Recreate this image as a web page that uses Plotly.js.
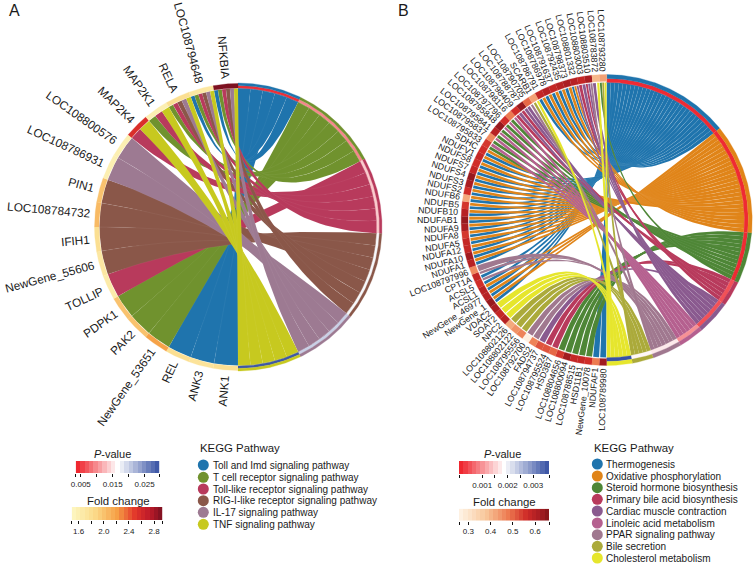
<!DOCTYPE html>
<html><head><meta charset="utf-8">
<script src="https://cdn.plot.ly/plotly-3.0.1.min.js"></script>
<style>html,body{margin:0;padding:0;background:#fff}#c{width:755px;height:565px}</style></head>
<body><div id="c"></div>
<script>
// ---------- Panel A data ----------
const termsA = ["Toll and Imd signaling pathway","T cell receptor signaling pathway","Toll-like receptor signaling pathway","RIG-I-like receptor signaling pathway","IL-17 signaling pathway","TNF signaling pathway"];
const termColorsA = ["#1f74ad","#70922e","#b83a5c","#8a5749","#9d7a92","#c7c91f"];
const termPA = [0.0045,0.0095,0.0135,0.0170,0.0200,0.0290];
const genesA = ["ANK1","ANK3","REL","NewGene_53651","PAK2","PDPK1","TOLLIP","NewGene_55606","IFIH1","LOC108784732","PIN1","LOC108786931","LOC108800576","MAP2K4","MAP2K1","RELA","LOC108794648","NFKBIA"];
const foldA = [1.8,1.75,1.8,2.2,2.0,2.0,1.65,1.7,1.8,2.05,2.0,1.6,1.6,2.55,1.6,1.8,1.7,2.92];
const linksA = [[0],[0],[0],[1],[1],[1],[2],[3],[3],[3],[3],[4],[4],[2,5],[1,2,5],[1,2,3,4,5],[0,1,2,3,4,5],[0,1,2,3,4,5]];
// ---------- Panel B data ----------
const termsB = ["Thermogenesis","Oxidative phosphorylation","Steroid hormone biosynthesis","Primary bile acid biosynthesis","Cardiac muscle contraction","Linoleic acid metabolism","PPAR signaling pathway","Bile secretion","Cholesterol metabolism"];
const termColorsB = ["#1f74ad","#e08418","#4e8636","#b83a5c","#8a5a8f","#b5608f","#a0788f","#abaa3a","#e6e62c"];
const termPB = [0.0002,0.0002,0.0002,0.0005,0.0005,0.0010,0.0017,0.0018,0.0036];
const genesB = ["LOC108789980","NDUFAF1","NewGene_10078","HSD11B1","LOC108788515","LOC108800094","LOC108804656","HSD3B7","LOC108795524","LOC108794737","FADS2","LOC108792700","LOC108795556","LOC108802122","LOC108802126","NPC2","SOAT2","VDAC2","NewGene_1","NewGene_46977","ACSL1","ACSL5","CPT1A","LOC108797996","NDUFA1","NDUFA10","NDUFA12","NDUFA5","NDUFA8","NDUFA9","NDUFAB1","NDUFB10","NDUFB5","NDUFB6","NDUFS2","NDUFS3","NDUFS4","NDUFS7","NDUFS8","NDUFV1","SDHC","LOC108795833","LOC108795837","LOC108795841","LOC108795848","LOC108797796","LOC108798116","LOC108798409","LOC108788787","LOC108790705","SCARB1","LOC108786791","LOC108786978","LOC108791637","LOC108792435","LOC108798373","LOC108801332","LOC108803003","LOC108803510","LOC108783872","LOC108793280"];
const foldB = [0.63,0.48,0.56,0.58,0.58,0.63,0.55,0.5,0.52,0.52,0.47,0.27,0.47,0.45,0.42,0.6,0.58,0.62,0.64,0.6,0.6,0.56,0.58,0.46,0.6,0.63,0.58,0.58,0.55,0.62,0.64,0.6,0.55,0.42,0.56,0.62,0.64,0.58,0.56,0.58,0.56,0.55,0.46,0.6,0.64,0.56,0.48,0.56,0.64,0.5,0.43,0.58,0.6,0.58,0.6,0.62,0.6,0.58,0.62,0.4,0.43];
const linksB = [[0],[0],[2],[2],[2],[2],[2],[3],[3],[4],[6],[6],[7],[7],[7],[8],[8],[8],[0,1],[0,1],[0,1],[0,6],[0,6],[6],
 [0,1],[0,1],[0,1],[0,1],[0,1],[0,1],[0,1],[0,1],[0,1],[0,1],[0,1],[0,1],[0,1],[0,1],[0,1],[0,1],[0,1],
 [2,5],[2,5],[2,5],[2,5],[2,5],[2,5],[3,4],[3,4],[4,6],[7,8],[0,1],[0,1],[0,1],[0,1],[0,1],[0,1,4],[3,4],[3,4,6],[4,8],[2,7,8]];
// ---------- colour scales ----------
const pScale = [[0,"#ee1c25"],[0.5,"#ffffff"],[1,"#3550a3"]];
const foldScaleA = [[0,"#fdf8c4"],[0.25,"#fbdb8a"],[0.5,"#f6a046"],[0.7,"#e2352a"],[0.85,"#bf1b2a"],[1,"#7a1020"]];
const foldScaleB = [[0,"#fff5e8"],[0.3,"#f8c79a"],[0.55,"#ed7a50"],[0.75,"#cf2b28"],[0.9,"#a81c22"],[1,"#7f1418"]];
const FONT = "Liberation Sans, Arial, sans-serif";

function hex(h){return [1,3,5].map(i=>parseInt(h.substr(i,2),16));}
function colorAt(scale,v,lo,hi){
  let t=Math.max(0,Math.min(1,(v-lo)/(hi-lo)));
  for(let i=1;i<scale.length;i++){
    if(t<=scale[i][0]){
      const f=(t-scale[i-1][0])/(scale[i][0]-scale[i-1][0]);
      const a=hex(scale[i-1][1]),b=hex(scale[i][1]);
      return "rgb("+a.map((x,k)=>Math.round(x+(b[k]-x)*f)).join(",")+")";
    }
  }
  return scale[scale.length-1][1];
}
const canvas=document.createElement("canvas").getContext("2d");
function textW(s,size){canvas.font=size+"px 'Liberation Sans'";return canvas.measureText(s).width;}

const traces=[],annotations=[];
function poly(pts,color,lw,lc){
  traces.push({type:"scatter",mode:"lines",x:pts.map(p=>p[0]),y:pts.map(p=>p[1]),fill:"toself",fillcolor:color,
    line:{width:lw===undefined?0.3:lw,color:lc||color},hoverinfo:"skip",showlegend:false,xaxis:"x",yaxis:"y"});
}
function chord(o){
  const rad=Math.PI/180;
  const P=(th,r)=>[o.cx+r*Math.sin(th*rad),o.cy-r*Math.cos(th*rad)];
  const arc=(a,b,r)=>{const n=Math.max(2,Math.ceil(Math.abs(b-a))*2),out=[];for(let i=0;i<=n;i++)out.push(P(a+(b-a)*i/n,r));return out;};
  const bez=(p,q)=>{const out=[];for(let i=1;i<40;i++){const t=i/40,u=1-t;out.push([u*u*p[0]+2*u*t*o.cx+t*t*q[0],u*u*p[1]+2*u*t*o.cy+t*t*q[1]]);}return out;};
  const wedge=(a,b,r1,r2,c)=>poly(arc(a,b,r2).concat(arc(b,a,r1)),c);
  const nG=o.genes.length,gW=180/nG,total=o.links.reduce((s,l)=>s+l.length,0),u=180/total;
  const count=o.terms.map((_,t)=>o.links.reduce((s,l)=>s+(l.includes(t)?1:0),0));
  const start=[];let acc=0;count.forEach(c=>{start.push(acc);acc+=c*u;});
  const next=start.slice();
  const gene=[];
  o.links.forEach((l,g)=>{
    const w=gW/l.length;
    l.forEach((t,k)=>{
      const c=180+g*gW+k*w,d=c+w,a=next[t],b=a+u;next[t]=b;
      gene.push({t,a,b,c:c+o.gap*w,d:d-o.gap*w});
    });
  });
  o.terms.forEach((_,t)=>{
    gene.filter(r=>r.t===t).forEach(r=>{
      const p=arc(r.a,r.b,o.rRib).concat(bez(P(r.b,o.rRib),P(r.c,o.rRib))).concat(arc(r.c,r.d,o.rRib)).concat(bez(P(r.d,o.rRib),P(r.a,o.rRib)));
      poly(p,o.termColors[t],o.seam,o.seamColor);
    });
  });
  o.terms.forEach((_,t)=>{
    const a=start[t],b=a+count[t]*u;
    wedge(a,b,o.rRib,o.rBar1,o.termColors[t]);
    wedge(a,b,o.rBar1,o.rBar2,colorAt(pScale,o.termP[t],o.pRange[0],o.pRange[1]));
    wedge(a,b,o.rBar2,o.rBand,o.termColors[t]);
  });
  o.genes.forEach((g,i)=>{
    const a=180+i*gW,b=a+gW,m=(a+b)/2;
    wedge(a,b,o.rGene1,o.rGene2,colorAt(o.foldScale,o.fold[i],o.foldRange[0],o.foldRange[1]));
    const size=o.labelSize,w=textW(g,size),pos=P(m,o.rLabel+w/2);
    annotations.push({x:pos[0],y:pos[1],xref:"x",yref:"y",text:g,showarrow:false,textangle:m-270,xanchor:"center",yanchor:"middle",
      font:{family:FONT,size:size,color:"#1a1a1a"},borderpad:0,borderwidth:0});
  });
}
chord({cx:238,cy:227,rRib:138.5,rBar1:139,rBar2:141.5,rBand:144,rGene1:139,rGene2:143.5,rLabel:149,labelSize:11.8,seam:0.2,seamColor:"rgba(255,255,255,0.25)",gap:0,
  genes:genesA,fold:foldA,links:linksA,terms:termsA,termColors:termColorsA,termP:termPA,pRange:[0.0034,0.0296],foldScale:foldScaleA,foldRange:[1.49,2.93]});
chord({cx:606.7,cy:220,rRib:137.5,rBar1:137.8,rBar2:141.6,rBand:145.5,rGene1:138.7,rGene2:145.5,rLabel:148.5,labelSize:8.8,seam:0.2,seamColor:"rgba(255,255,255,0.25)",gap:0.08,
  genes:genesB,fold:foldB,links:linksB,terms:termsB,termColors:termColorsB,termP:termPB,pRange:[0.00009,0.00363],foldScale:foldScaleB,foldRange:[0.258,0.664]});

function txt(x,y,t,size,anchor){annotations.push({x,y,xref:"x",yref:"y",text:t,showarrow:false,xanchor:anchor||"left",yanchor:"middle",font:{family:FONT,size,color:"#1a1a1a"},borderpad:0});}
txt(8,10,"A",16);txt(397,10,"B",16);

function legend(title,x0,yTitle,terms,colors,ys,dotX,textX){
  txt(x0,yTitle,title,11.4);
  traces.push({type:"scatter",mode:"markers",x:terms.map(()=>dotX),y:ys,marker:{size:11,color:colors,line:{width:0}},hoverinfo:"skip",showlegend:false,xaxis:"x",yaxis:"y"});
  terms.forEach((t,i)=>txt(textX,ys[i],t,10));
}
const legendYA=[465,477.3,489,500.7,512.3,524.3];
const legendYB=[464,476,487.7,499.3,511,523,534.7,546.3,558];
legend("KEGG Pathway",199.3,447.7,termsA,termColorsA,legendYA,203.3,211.7);
legend("KEGG Pathway",593.3,447.7,termsB,termColorsB,legendYB,597.3,605);

const layoutAxes={};
let axN=2;
function bar(o){
  const n=axN++;const xa="xaxis"+n,ya="yaxis"+n;
  layoutAxes[xa]={domain:[o.x0/755,o.x1/755],range:o.range,anchor:"y"+n,tickmode:"array",tickvals:o.ticks,ticktext:o.ticks.map(v=>o.labels[v]||""),ticks:"outside",ticklen:3,tickwidth:1,tickcolor:"#111",
    tickfont:{family:FONT,size:8,color:"#222"},showgrid:false,zeroline:false,showline:false,fixedrange:true,ticklabelstandoff:0};
  layoutAxes[ya]={domain:[1-o.y1/565,1-o.y0/565],range:[0,1],anchor:"x"+n,visible:false,fixedrange:true};
  const cells=o.cells,xs=[],zs=[],step=(o.range[1]-o.range[0])/cells;
  for(let i=0;i<cells;i++){xs.push(o.range[0]+step*(i+0.5));zs.push(o.range[0]+step*(i+0.5));}
  traces.push({type:"heatmap",x:xs,y:[0.5],z:[zs],colorscale:o.scale,zmin:o.range[0],zmax:o.range[1],showscale:false,hoverinfo:"skip",xaxis:"x"+n,yaxis:"y"+n,xgap:0});
}
const pLabelsA={0.005:"0.005",0.015:"0.015",0.025:"0.025"};
const pLabelsB={0.001:"0.001",0.002:"0.002",0.003:"0.003"};
const fLabelsA={1.6:"1.6",2:"2.0",2.4:"2.4",2.8:"2.8"};
const fLabelsB={0.3:"0.3",0.4:"0.4",0.5:"0.5",0.6:"0.6"};
bar({x0:75.7,x1:159.3,y0:461,y1:473.3,range:[0.0034,0.0296],ticks:[0.0034,0.005,0.01,0.015,0.02,0.025,0.0296],labels:pLabelsA,scale:pScale,cells:19});
bar({x0:71.7,x1:162.3,y0:507,y1:520,range:[1.49,2.93],ticks:[1.49,1.6,1.8,2,2.2,2.4,2.6,2.8,2.93],labels:fLabelsA,scale:foldScaleA,cells:21});
bar({x0:459,x1:549.3,y0:461,y1:474,range:[0.00009,0.00363],ticks:[0.00009,0.001,0.0015,0.002,0.0025,0.003,0.00363],labels:pLabelsB,scale:pScale,cells:21});
bar({x0:459,x1:549.3,y0:508.7,y1:520.7,range:[0.258,0.664],ticks:[0.258,0.3,0.4,0.5,0.6,0.664],labels:fLabelsB,scale:foldScaleB,cells:21});
txt(112.7,454,"<i>P</i>-value",11,"center");
txt(118.7,500.7,"Fold change",11.4,"center");
txt(502.7,454,"<i>P</i>-value",11,"center");
txt(504,502.3,"Fold change",11.4,"center");

const layout=Object.assign({
  width:755,height:565,margin:{l:0,r:0,t:0,b:0},paper_bgcolor:"#fff",plot_bgcolor:"rgba(0,0,0,0)",showlegend:false,
  xaxis:{domain:[0,1],range:[0,755],visible:false,fixedrange:true},
  yaxis:{domain:[0,1],range:[565,0],visible:false,fixedrange:true},
  annotations
},layoutAxes);
Plotly.newPlot("c",traces,layout,{displayModeBar:false,staticPlot:true});
</script></body></html>
